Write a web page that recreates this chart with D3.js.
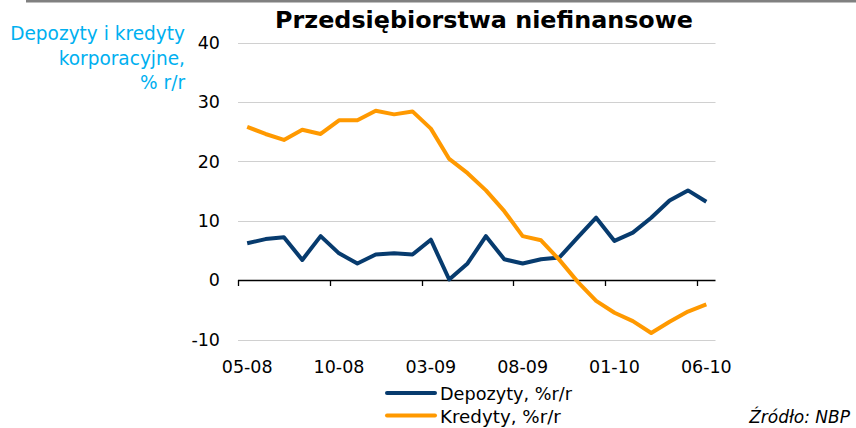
<!DOCTYPE html>
<html><head><meta charset="utf-8">
<script src="https://cdnjs.cloudflare.com/ajax/libs/d3/7.8.5/d3.min.js"></script>
<style>html,body{margin:0;padding:0;background:#fff;}svg{display:block;font-family:"DejaVu Sans",Verdana,sans-serif;}</style>
</head><body><svg id="c" width="856" height="428"></svg>
<script>
const months = ["05-08","06-08","07-08","08-08","09-08","10-08","11-08","12-08","01-09","02-09","03-09","04-09","05-09","06-09","07-09","08-09","09-09","10-09","11-09","12-09","01-10","02-10","03-10","04-10","05-10","06-10"];
const depozyty = [6.2,6.9,7.2,3.4,7.4,4.5,2.8,4.3,4.5,4.3,6.8,0.1,2.8,7.4,3.5,2.8,3.5,3.8,7.2,10.5,6.6,8.0,10.5,13.4,15.1,13.2];
const kredyty = [25.8,24.6,23.6,25.3,24.6,26.9,26.9,28.5,27.9,28.4,25.5,20.4,18.0,15.1,11.6,7.4,6.7,3.4,-0.3,-3.5,-5.5,-6.9,-8.9,-7.0,-5.3,-4.1];
const yTicks = [-10,0,10,20,30,40];
const xLabels = ["05-08","10-08","03-09","08-09","01-10","06-10"];
const seriesNames = ["Depozyty, %r/r","Kredyty, %r/r"];
const colors = ["#073b6e","#ff9900"];

const svg = d3.select("#c");
const x = d3.scaleBand().domain(months).range([238,715.5]);
const y = d3.scaleLinear().domain([-10,40]).range([339.5,42.5]);

function fit(sel, w){ const n=sel.node(); const l=n.getComputedTextLength(); const fs=parseFloat(sel.attr("font-size")); sel.attr("font-size", fs*w/l); }

// top border
svg.append("rect").attr("x",26).attr("y",0).attr("width",830).attr("height",2.5).attr("fill","#808080");

// grid
svg.append("g").selectAll("line").data(yTicks.filter(d=>d!==0)).join("line")
  .attr("x1",238).attr("x2",715.5).attr("y1",d=>Math.round(y(d))+0.5).attr("y2",d=>Math.round(y(d))+0.5)
  .attr("stroke","#d0d0d0").attr("stroke-width",1.2);

// y labels
svg.append("g").selectAll("text").data(yTicks).join("text")
  .attr("x",220).attr("y",d=>y(d)).attr("dy","0.36em").attr("text-anchor","end")
  .attr("font-size",17.5).attr("fill","#000").text(d=>d);

// x axis
const xa = svg.append("g").attr("transform","translate(0,280)");
xa.append("line").attr("x1",238).attr("x2",715.5).attr("y1",0.5).attr("y2",0.5).attr("stroke","#000").attr("stroke-width",1.3);
const tickIdx = [0,5,10,15,20,25];
xa.selectAll(".tk").data(tickIdx).join("line").attr("class","tk")
  .attr("x1",i=>Math.round(x(months[i]))+0.5).attr("x2",i=>Math.round(x(months[i]))+0.5)
  .attr("y1",0).attr("y2",6).attr("stroke","#000").attr("stroke-width",1.3);
svg.append("g").selectAll("text").data(xLabels).join("text")
  .attr("x",d=>x(d)+x.bandwidth()/2).attr("y",373).attr("text-anchor","middle")
  .attr("font-size",17.5).attr("fill","#000").text(d=>d);

// lines
const line = d3.line().x((d,i)=>x(months[i])+x.bandwidth()/2).y(d=>y(d));
[depozyty,kredyty].forEach((s,k)=>{
  svg.append("path").datum(s).attr("d",line).attr("fill","none")
    .attr("stroke",colors[k]).attr("stroke-width",4).attr("stroke-linejoin","round");
});

// title
const t = svg.append("text").attr("x",484).attr("y",28).attr("text-anchor","middle")
  .attr("font-weight","bold").attr("font-size",20).attr("fill","#000").text("Przedsiębiorstwa niefinansowe");
fit(t,418);

// y axis title
const yl = ["Depozyty i kredyty","korporacyjne,","% r/r"];
const ylt = svg.append("text").attr("font-size",18).attr("fill","#00b0f0").attr("text-anchor","end");
ylt.selectAll("tspan").data(yl).join("tspan").attr("x",185).attr("y",(d,i)=>40+i*24.5).text(d=>d);
{ const tmp = svg.append("text").attr("font-size",18).text(yl[0]); const l=tmp.node().getComputedTextLength(); tmp.remove(); ylt.attr("font-size",18*175/l); }

// legend
const lg = svg.append("g");
seriesNames.forEach((n,k)=>{
  const yy = 393 + k*22.5;
  lg.append("line").attr("x1",387).attr("x2",435).attr("y1",yy).attr("y2",yy).attr("stroke",colors[k]).attr("stroke-width",4).attr("stroke-linecap","round");
  const tt = lg.append("text").attr("x",440).attr("y",yy+7).attr("font-size",17.5).attr("fill","#000").text(n);
  fit(tt, k===0 ? 132 : 121);
});

// source
const src = svg.append("text").attr("x",850).attr("y",423).attr("text-anchor","end")
  .attr("font-style","italic").attr("font-size",17).attr("fill","#000").text("Źródło: NBP");
</script></body></html>
